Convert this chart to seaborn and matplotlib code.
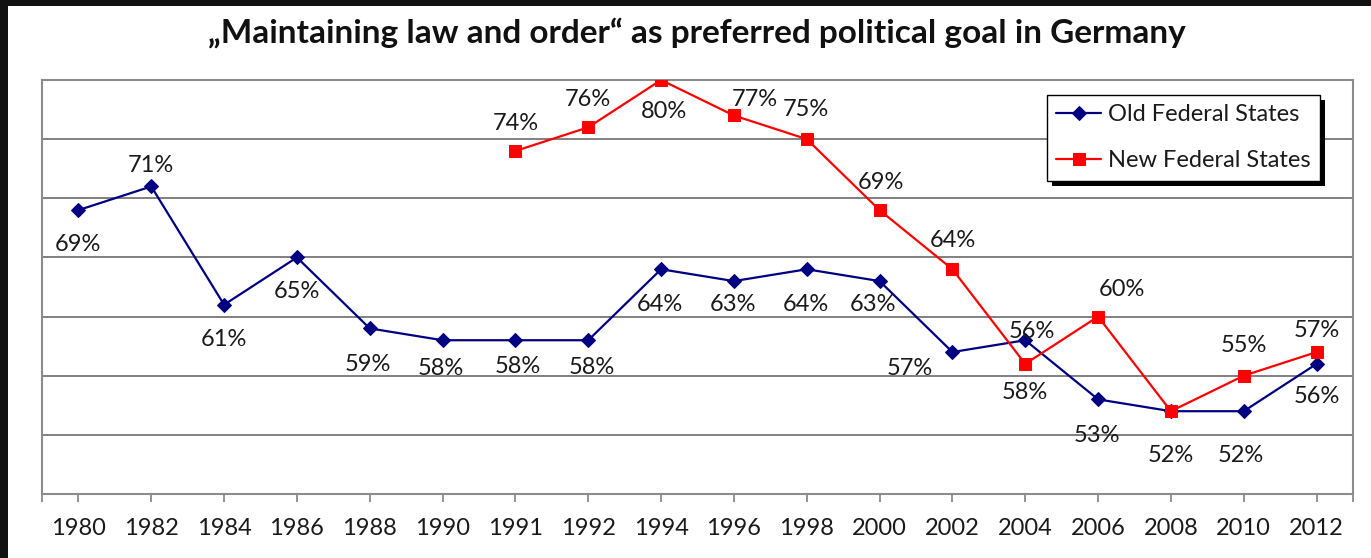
import matplotlib
matplotlib.use("Agg")
import matplotlib.pyplot as plt
from matplotlib.patches import Rectangle
import seaborn as sns
import pandas as pd

# data
years = ["1980", "1982", "1984", "1986", "1988", "1990", "1991", "1992", "1994",
         "1996", "1998", "2000", "2002", "2004", "2006", "2008", "2010", "2012"]
old_states = [69, 71, 61, 65, 59, 58, 58, 58, 64, 63, 64, 63, 57, 58, 53, 52, 52, 56]
new_years = ["1991", "1992", "1994", "1996", "1998", "2000", "2002", "2004",
             "2006", "2008", "2010", "2012"]
new_states = [74, 76, 80, 77, 75, 69, 64, 56, 60, 52, 55, 57]
# the original chart prints these labels (2004 ones look swapped, 2008 new hidden)
old_labels = ["69%", "71%", "61%", "65%", "59%", "58%", "58%", "58%", "64%",
              "63%", "64%", "63%", "57%", "58%", "53%", "52%", "52%", "56%"]
new_labels = ["74%", "76%", "80%", "77%", "75%", "69%", "64%", "56%",
              "60%", None, "55%", "57%"]

# label offsets in pixels (dx, dy; dy positive = down)
old_off = [(0, 34), (0, -21), (0, 35), (0, 34), (-2, 36), (-2, 28), (2, 26), (4, 27),
           (-1, 35), (-1, 23), (-1, 35), (-7, 23), (-43, 16), (0, 52), (-1, 36),
           (0, 44), (-3, 44), (0, 33)]
new_off = [(0, -27), (0, -28), (3, 32), (21, -16), (-1, -30), (1, -28), (0, -29),
           (7, -32), (24, -27), (0, 0), (0, -30), (0, -22)]

pos = {y: i for i, y in enumerate(years)}
df_old = pd.DataFrame({"x": [pos[y] for y in years], "v": old_states})
df_new = pd.DataFrame({"x": [pos[y] for y in new_years], "v": new_states})

sns.set_theme(style="white")
plt.rcParams["font.family"] = ["Lato", "DejaVu Sans"]

fig = plt.figure(figsize=(13.71, 5.58), dpi=100)
ax = fig.add_axes([42 / 1371, 1 - 494 / 558, (1353 - 42) / 1371, (494 - 80) / 558])

navy = "#000080"
red = "#ff0000"
fs = 17
sns.lineplot(data=df_old, x="x", y="v", ax=ax, color=navy, lw=1.6, marker="D",
             markersize=7, markeredgecolor=navy, label="Old Federal States", zorder=3)
sns.lineplot(data=df_new, x="x", y="v", ax=ax, color=red, lw=1.6, marker="s",
             markersize=9, markeredgecolor=red, label="New Federal States", zorder=3)

txt = "#1a1a1a"
for x, v, lab, (dx, dy) in zip(df_old["x"], old_states, old_labels, old_off):
    ax.annotate(lab, (x, v), xytext=(dx, -dy), textcoords="offset pixels",
                ha="center", va="center", fontsize=fs, color=txt, zorder=4)
for x, v, lab, (dx, dy) in zip(df_new["x"], new_states, new_labels, new_off):
    if lab is None:
        continue
    ax.annotate(lab, (x, v), xytext=(dx, -dy), textcoords="offset pixels",
                ha="center", va="center", fontsize=fs, color=txt, zorder=4)

ax.set_xlim(-0.5, len(years) - 0.5)
ax.set_ylim(45, 80)
ax.set_yticks([50, 55, 60, 65, 70, 75])
ax.yaxis.grid(True, color="#808080", lw=1.4)
ax.tick_params(axis="y", left=False, labelleft=False)
ax.set_xticks(range(len(years)))
ax.set_xticklabels(years)
ax.set_xticks([-0.5, len(years) - 0.5], minor=True)
ax.tick_params(axis="x", which="both", bottom=True, direction="out", length=6,
               width=1.2, color="#808080", labelsize=fs, labelcolor=txt, pad=11)
ax.set_xlabel("")
ax.set_ylabel("")
for s in ax.spines.values():
    s.set_color("#8c8c8c")
    s.set_linewidth(1.5)

leg = ax.legend(loc="upper left", bbox_to_anchor=((1047 - 42) / 1311, 1 - 15 / 414),
                frameon=True, fancybox=False, edgecolor="black", framealpha=1,
                fontsize=fs, handlelength=1.9, borderpad=0.4, labelspacing=1.05,
                handletextpad=0.3, borderaxespad=0)
leg.get_frame().set_linewidth(1.0)
for t in leg.get_texts():
    t.set_color(txt)
leg.set_zorder(6)

fig.suptitle("\u201eMaintaining law and order\u201c as preferred political goal in Germany",
             x=0.508, y=1 - 33 / 558, va="center", fontsize=24, fontweight="bold",
             color="#111111")

# legend drop shadow
fig.canvas.draw()
bb = leg.get_window_extent()
ax.add_patch(Rectangle((bb.x0 + 5, bb.y0 - 5), bb.width, bb.height, transform=None,
                       facecolor="black", edgecolor="none", zorder=5.5, clip_on=False))

# dark frame from the screenshot
fig.patches.append(Rectangle((0, 1 - 6 / 558), 1, 6 / 558, transform=fig.transFigure,
                             facecolor="#111111", edgecolor="none", zorder=10))
fig.patches.append(Rectangle((0, 0), 8 / 1371, 1, transform=fig.transFigure,
                             facecolor="#111111", edgecolor="none", zorder=10))

fig.savefig("out.png", dpi=100)
